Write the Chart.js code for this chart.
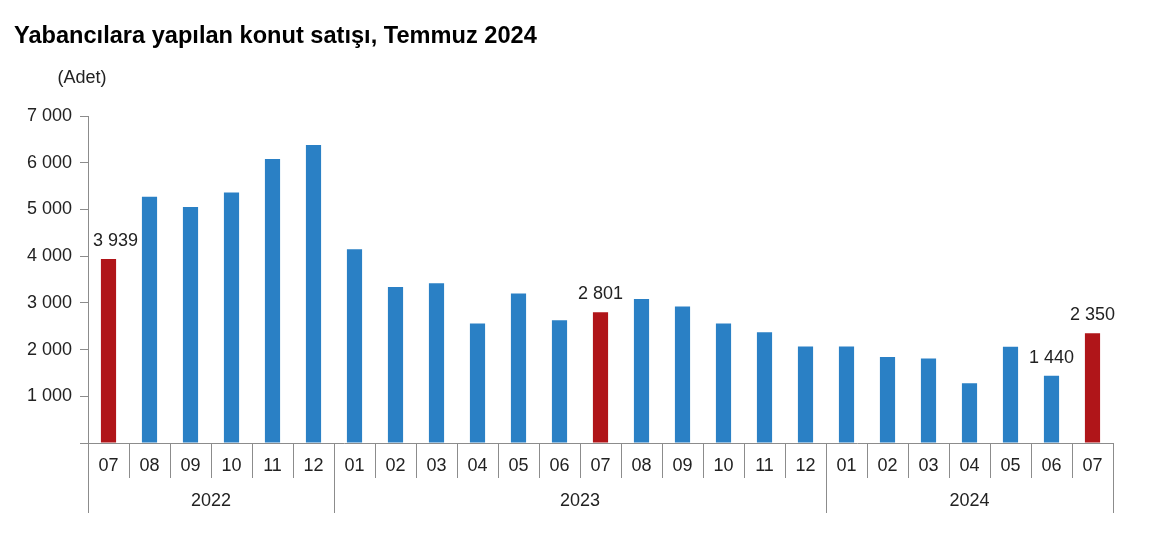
<!DOCTYPE html>
<html>
<head>
<meta charset="utf-8">
<script src="https://cdn.jsdelivr.net/npm/chart.js@4"></script>
<style>
  html, body { margin: 0; padding: 0; background: #fff; }
  #wrap { position: relative; width: 1160px; height: 535px; }
  #title { position: absolute; left: 14px; top: 22px; font: bold 23.6px "Liberation Sans", Arial, sans-serif; color: #000; white-space: nowrap; }
  canvas { position: absolute; left: 0; top: 0; }
</style>
</head>
<body>
<div id="wrap">
  <canvas id="c" width="1160" height="535"></canvas>
  <div id="title">Yabancılara yapılan konut satışı, Temmuz 2024</div>
</div>
<script>
const months = ['07','08','09','10','11','12','01','02','03','04','05','06','07','08','09','10','11','12','01','02','03','04','05','06','07'];
const years = ['2022','2023','2024'];
const yearSpans = [6, 12, 7];
const sales = [3939, 5270, 5050, 5360, 6080, 6380, 4150, 3340, 3420, 2560, 3200, 2630, 2801, 3080, 2920, 2560, 2370, 2065, 2065, 1840, 1810, 1280, 2060, 1440, 2350];
const highlighted = [0, 12, 24];
const labelled = [0, 12, 23, 24];
const yTicks = [0, 1000, 2000, 3000, 4000, 5000, 6000, 7000];

const BLUE = '#2a80c5';
const RED = '#b01519';
const AXIS = '#8c8c8c';
const TEXT = '#222222';
const FONT = '"Liberation Sans", Arial, sans-serif';

function fmt(v) { return String(v).replace(/\B(?=(\d{3})+(?!\d))/g, ' '); }

const decor = {
  id: 'decor',
  afterDraw(chart) {
    const ctx = chart.ctx;
    const x = chart.scales.x;
    const area = chart.chartArea;
    const n = months.length;
    const step = (x.getPixelForValue(1) - x.getPixelForValue(0));
    const base = area.bottom;
    ctx.save();
    ctx.strokeStyle = AXIS;
    ctx.lineWidth = 1;
    const groupEdges = new Set();
    let acc = 0;
    groupEdges.add(0);
    yearSpans.forEach(s => { acc += s; groupEdges.add(acc); });
    for (let i = 0; i <= n; i++) {
      const px = Math.round(x.getPixelForValue(i) - step / 2) + 0.5;
      const len = groupEdges.has(i) ? 70 : 35;
      ctx.beginPath();
      ctx.moveTo(px, base);
      ctx.lineTo(px, base + len);
      ctx.stroke();
    }
    ctx.fillStyle = TEXT;
    ctx.font = '18px ' + FONT;
    ctx.textAlign = 'center';
    ctx.textBaseline = 'middle';
    acc = 0;
    yearSpans.forEach((s, k) => {
      const l = x.getPixelForValue(acc) - step / 2;
      const r = x.getPixelForValue(acc + s - 1) + step / 2;
      ctx.fillText(years[k], (l + r) / 2, base + 58);
      acc += s;
    });
    ctx.fillText('(Adet)', 82, 78);
    const meta = chart.getDatasetMeta(0);
    labelled.forEach(i => {
      const bar = meta.data[i];
      const txt = fmt(sales[i]);
      const w = ctx.measureText(txt).width;
      let cx = bar.x;
      if (cx - w / 2 < area.left + 5) cx = area.left + 5 + w / 2;
      ctx.fillText(txt, cx, bar.y - 18);
    });
    ctx.restore();
  }
};

new Chart(document.getElementById('c'), {
  type: 'bar',
  data: {
    labels: months,
    datasets: [{
      data: sales,
      backgroundColor: sales.map((v, i) => highlighted.includes(i) ? RED : BLUE),
      borderWidth: 0,
      categoryPercentage: 1,
      barPercentage: 0.37
    }]
  },
  options: {
    responsive: false,
    animation: false,
    devicePixelRatio: 1,
    layout: { padding: { left: 0, top: 116, right: 47, bottom: 0 } },
    plugins: { legend: { display: false }, tooltip: { enabled: false }, title: { display: false } },
    scales: {
      x: {
        afterFit(s) { s.height = 92; },
        grid: { display: false, drawTicks: false },
        border: { display: true, color: AXIS, width: 1 },
        ticks: { color: TEXT, font: { size: 18, family: FONT }, padding: 12, maxRotation: 0, autoSkip: false }
      },
      y: {
        min: 0,
        max: 7000,
        afterFit(s) { s.width = 88; },
        afterBuildTicks(s) { s.ticks = yTicks.map(v => ({ value: v })); },
        grid: { drawOnChartArea: false, drawTicks: true, tickLength: 8, color: AXIS },
        border: { display: true, color: AXIS, width: 1 },
        ticks: {
          color: TEXT,
          font: { size: 18, family: FONT },
          padding: 8,
          callback: v => v === 0 ? '' : fmt(v)
        }
      }
    }
  },
  plugins: [decor]
});
</script>
</body>
</html>
